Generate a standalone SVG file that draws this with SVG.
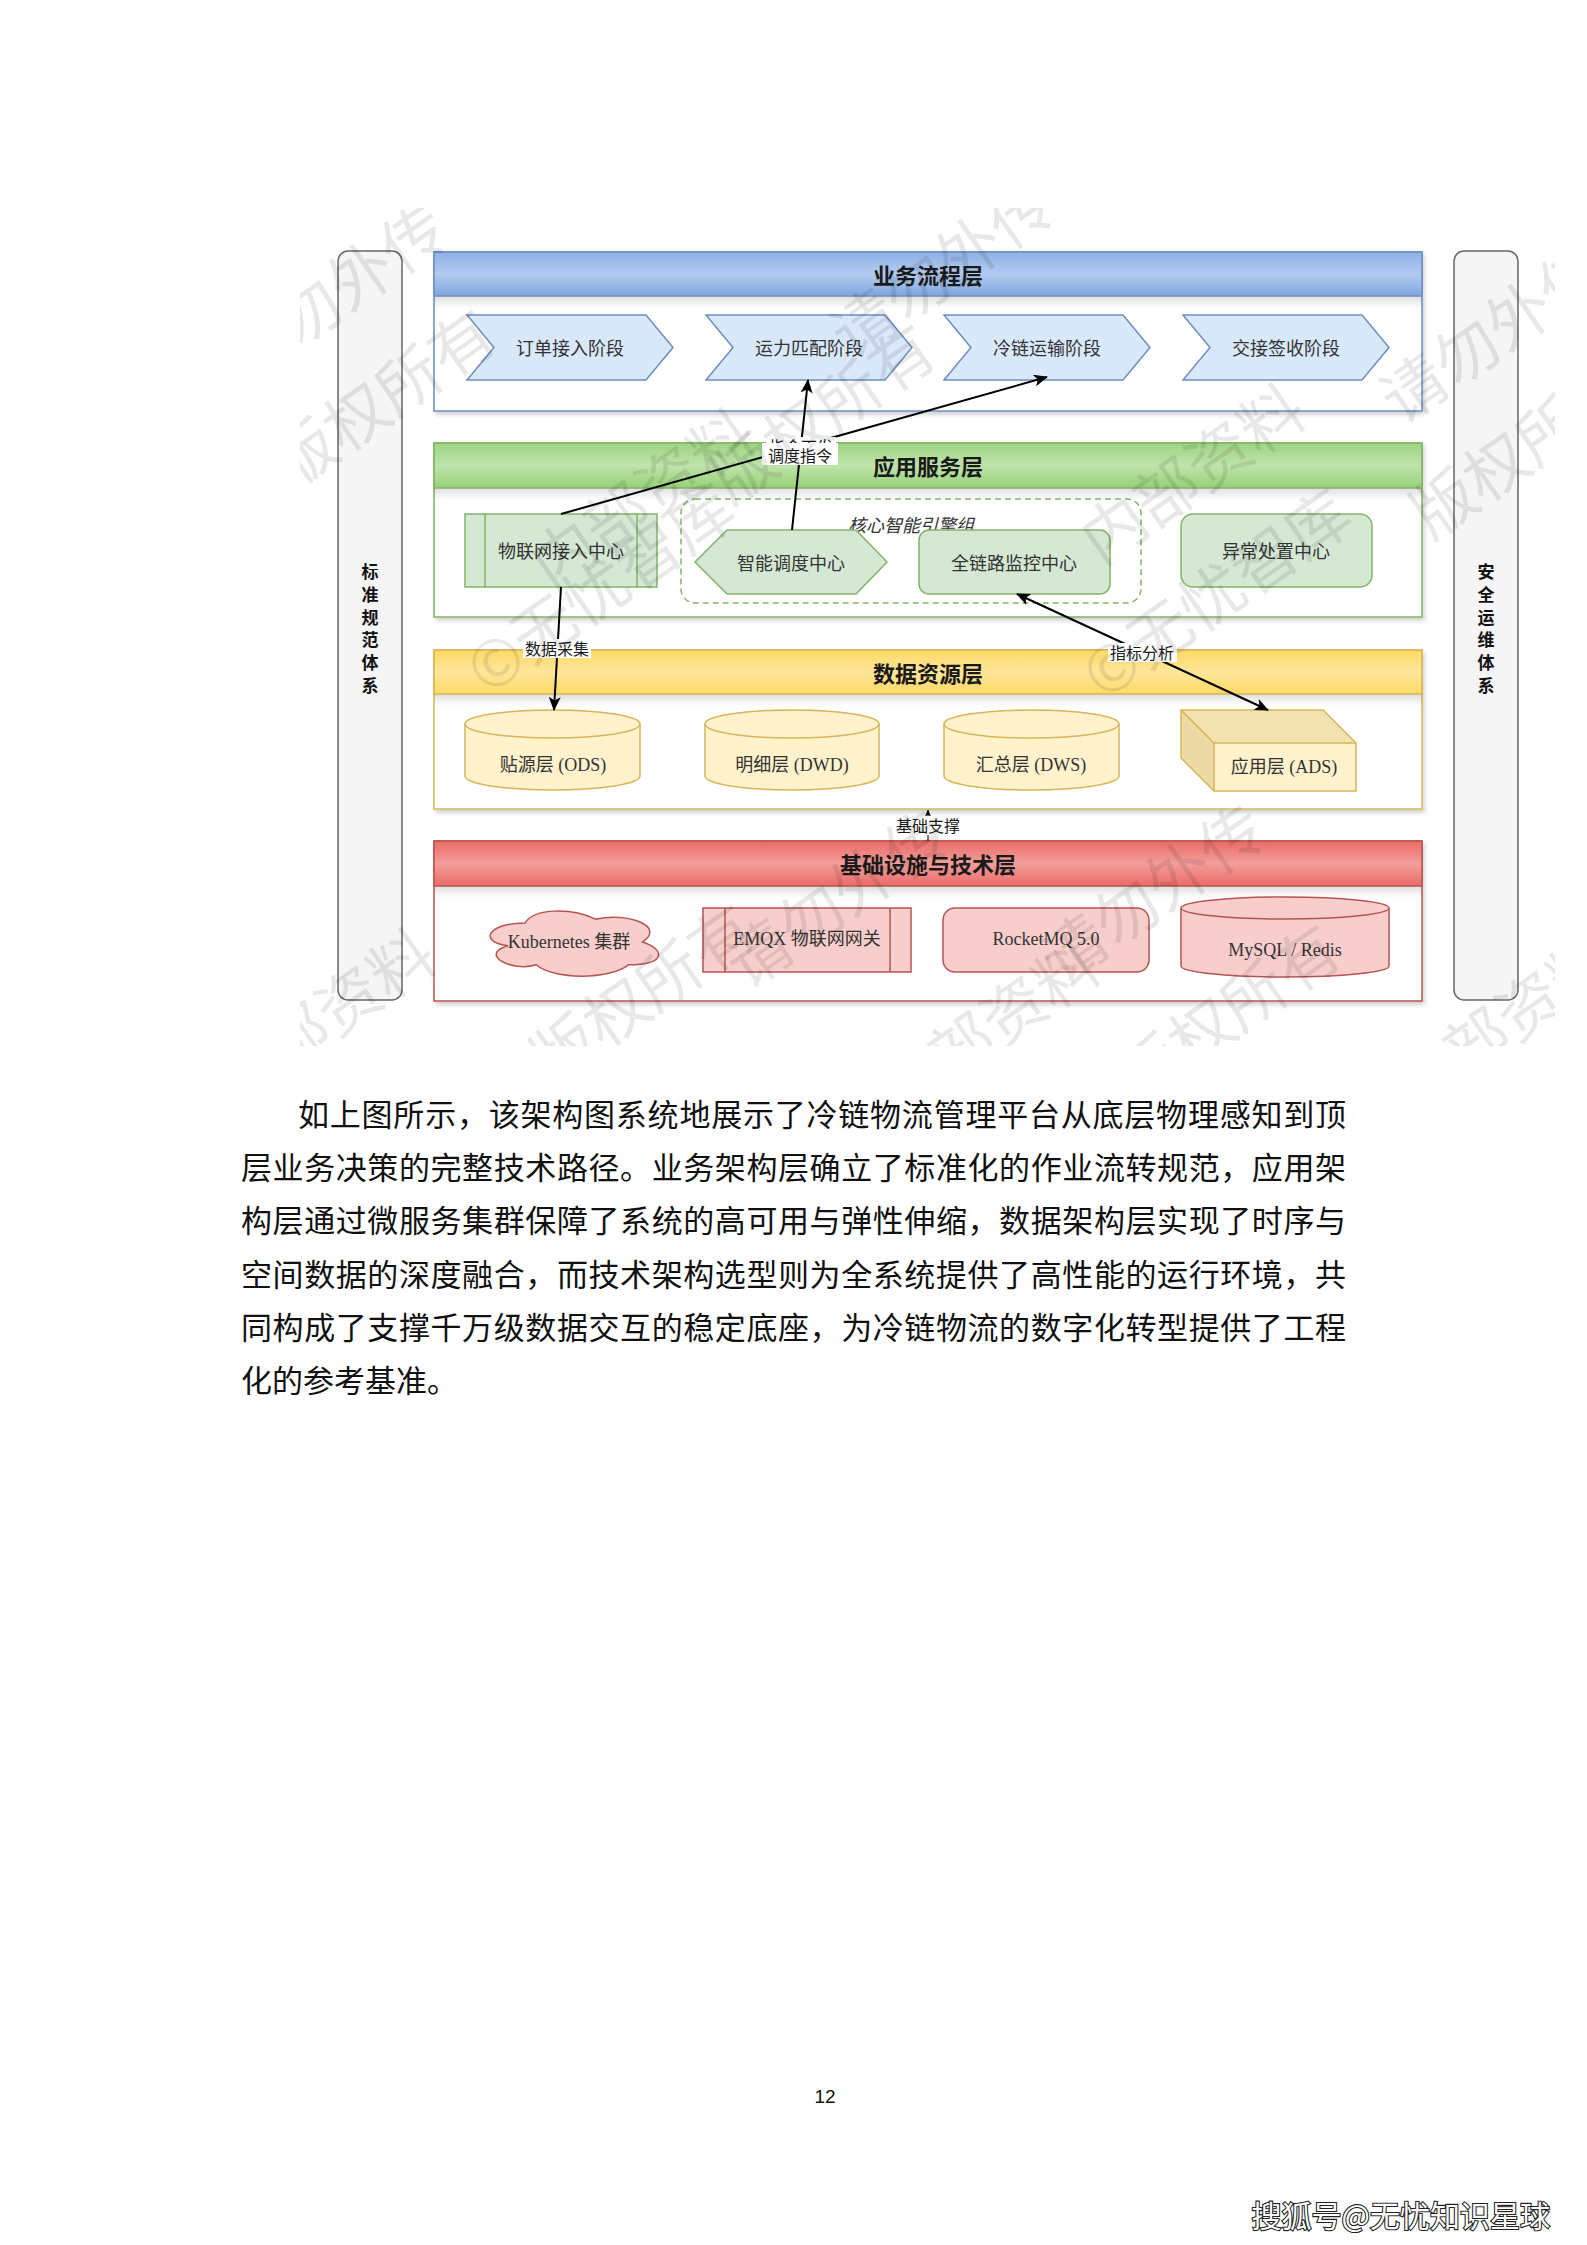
<svg xmlns="http://www.w3.org/2000/svg" width="1587" height="2245" viewBox="0 0 1587 2245">
<style>
.hdr{font-family:"Noto Sans CJK SC",sans-serif;font-weight:bold;font-size:22px;fill:#1a1a1a;text-anchor:middle;dominant-baseline:central}
.lbl{font-family:"Liberation Serif","Noto Sans CJK SC",serif;font-size:18px;fill:#333;text-anchor:middle;dominant-baseline:central}
.cj{font-family:"Noto Sans CJK SC",sans-serif;font-size:18px;fill:#333;text-anchor:middle;dominant-baseline:central}
.elbl{font-family:"Noto Sans CJK SC",sans-serif;font-size:16px;fill:#1a1a1a;text-anchor:middle;dominant-baseline:central}
.side{font-family:"Noto Sans CJK SC",sans-serif;font-weight:bold;font-size:17px;fill:#111;text-anchor:middle;dominant-baseline:central}
.body{font-family:"Liberation Serif","Noto Sans CJK SC",serif;font-size:31px;fill:#111}
.wm{font-family:"Noto Sans CJK SC",sans-serif;font-size:64px;fill:#000;fill-opacity:0.09;text-anchor:middle;dominant-baseline:central}
.edge{stroke:#000;stroke-width:2;fill:none}
.bgw{fill:#fff}
</style>
<defs>
<linearGradient id="gBlue" x1="0" y1="0" x2="0" y2="1"><stop offset="0" stop-color="#8db0e6"/><stop offset="0.5" stop-color="#b3cbf0"/><stop offset="1" stop-color="#7ea6e0"/></linearGradient>
<linearGradient id="gGreen" x1="0" y1="0" x2="0" y2="1"><stop offset="0" stop-color="#9ed383"/><stop offset="0.5" stop-color="#bfe4ab"/><stop offset="1" stop-color="#97d077"/></linearGradient>
<linearGradient id="gYellow" x1="0" y1="0" x2="0" y2="1"><stop offset="0" stop-color="#ffd966"/><stop offset="0.5" stop-color="#ffe699"/><stop offset="1" stop-color="#ffd966"/></linearGradient>
<linearGradient id="gRed" x1="0" y1="0" x2="0" y2="1"><stop offset="0" stop-color="#ea6b66"/><stop offset="0.5" stop-color="#f29e9b"/><stop offset="1" stop-color="#ea6b66"/></linearGradient>
<linearGradient id="gShade" x1="0" y1="0" x2="0" y2="1"><stop offset="0" stop-color="#000" stop-opacity="0.13"/><stop offset="1" stop-color="#000" stop-opacity="0"/></linearGradient>
<filter id="sh" x="-5%" y="-5%" width="110%" height="115%"><feDropShadow dx="2" dy="3" stdDeviation="2" flood-color="#000" flood-opacity="0.18"/></filter>
<marker id="arr" viewBox="0 0 14 12" refX="13" refY="6" markerWidth="14" markerHeight="12" markerUnits="userSpaceOnUse" orient="auto-start-reverse"><path d="M0,0 L14,6 L0,12 L3.5,6 Z" fill="#000"/></marker>
<marker id="arrS" viewBox="0 0 14 12" refX="13" refY="6" markerWidth="7" markerHeight="6" markerUnits="userSpaceOnUse" orient="auto"><path d="M0,0 L14,6 L0,12 L3.5,6 Z" fill="#000"/></marker>
<clipPath id="wmclip"><rect x="300" y="208" width="1255" height="838"/></clipPath>
</defs>
<rect x="0" y="0" width="1587" height="2245" fill="#fff"/>

<!-- side bars -->
<g id="std">
<rect x="338" y="251" width="64" height="749" rx="10" fill="#f5f5f5" stroke="#666" stroke-width="1.5"/>
<text class="side" x="370" y="570">标</text><text class="side" x="370" y="593">准</text><text class="side" x="370" y="616">规</text><text class="side" x="370" y="638">范</text><text class="side" x="370" y="661">体</text><text class="side" x="370" y="684">系</text>
</g>
<g id="sec">
<rect x="1454" y="251" width="64" height="749" rx="10" fill="#f5f5f5" stroke="#666" stroke-width="1.5"/>
<text class="side" x="1486" y="570">安</text><text class="side" x="1486" y="593">全</text><text class="side" x="1486" y="616">运</text><text class="side" x="1486" y="638">维</text><text class="side" x="1486" y="661">体</text><text class="side" x="1486" y="684">系</text>
</g>

<!-- layer 1 -->
<g id="layer-biz">
<rect x="434" y="252" width="988" height="159" fill="#fff" stroke="#6c8ebf" stroke-width="1.5" filter="url(#sh)"/>
<rect x="434" y="296" width="988" height="12" fill="url(#gShade)"/>
<rect x="434" y="252" width="988" height="44" fill="url(#gBlue)" stroke="#6c8ebf" stroke-width="1.5"/>
<text class="hdr" x="928" y="274">业务流程层</text>
</g>
<g id="stage1"><polygon points="467,315 646,315 673,347.5 646,380 467,380 494,347.5" fill="#dae8fc" stroke="#6c8ebf" stroke-width="1.5"/><text class="cj" x="570" y="347">订单接入阶段</text></g>
<g id="stage2"><polygon points="706,315 885,315 912,347.5 885,380 706,380 733,347.5" fill="#dae8fc" stroke="#6c8ebf" stroke-width="1.5"/><text class="cj" x="809" y="347">运力匹配阶段</text></g>
<g id="stage3"><polygon points="944,315 1123,315 1150,347.5 1123,380 944,380 971,347.5" fill="#dae8fc" stroke="#6c8ebf" stroke-width="1.5"/><text class="cj" x="1047" y="347">冷链运输阶段</text></g>
<g id="stage4"><polygon points="1183,315 1362,315 1389,347.5 1362,380 1183,380 1210,347.5" fill="#dae8fc" stroke="#6c8ebf" stroke-width="1.5"/><text class="cj" x="1286" y="347">交接签收阶段</text></g>

<!-- layer 2 -->
<g id="layer-app">
<rect x="434" y="443" width="988" height="174" fill="#fff" stroke="#82b366" stroke-width="1.5" filter="url(#sh)"/>
<rect x="434" y="488" width="988" height="12" fill="url(#gShade)"/>
<rect x="434" y="443" width="988" height="45" fill="url(#gGreen)" stroke="#82b366" stroke-width="1.5"/>
<text class="hdr" x="928" y="465">应用服务层</text>
</g>
<g id="core-group">
<rect x="681" y="499" width="460" height="104" rx="14" fill="none" stroke="#82b366" stroke-width="1.5" stroke-dasharray="6,4"/>
<text class="cj" x="911" y="524" font-style="italic" font-size="17">核心智能引擎组</text>
</g>
<g id="iot-center">
<rect x="465" y="514" width="192" height="73" fill="#d5e8d4" stroke="#82b366" stroke-width="1.5"/>
<line x1="485" y1="514" x2="485" y2="587" stroke="#82b366" stroke-width="1.5"/><line x1="637" y1="514" x2="637" y2="587" stroke="#82b366" stroke-width="1.5"/>
<text class="cj" x="561" y="550">物联网接入中心</text>
</g>
<g id="dispatch-center">
<polygon points="695,562 727,530 856,530 887,562 856,594 727,594" fill="#d5e8d4" stroke="#82b366" stroke-width="1.5"/>
<text class="cj" x="791" y="562">智能调度中心</text>
</g>
<g id="monitor-center">
<rect x="919" y="530" width="191" height="64" rx="10" fill="#d5e8d4" stroke="#82b366" stroke-width="1.5"/>
<text class="cj" x="1014" y="562">全链路监控中心</text>
</g>
<g id="exception-center">
<rect x="1181" y="514" width="191" height="73" rx="12" fill="#d5e8d4" stroke="#82b366" stroke-width="1.5"/>
<text class="cj" x="1276" y="550">异常处置中心</text>
</g>

<!-- layer 3 -->
<g id="layer-data">
<rect x="434" y="650" width="988" height="159" fill="#fff" stroke="#d6b656" stroke-width="1.5" filter="url(#sh)"/>
<rect x="434" y="694" width="988" height="12" fill="url(#gShade)"/>
<rect x="434" y="650" width="988" height="44" fill="url(#gYellow)" stroke="#d6b656" stroke-width="1.5"/>
<text class="hdr" x="928" y="672">数据资源层</text>
</g>
<g id="ods">
<path d="M465,724 A87.5,14 0 0 1 640,724 L640,776 A87.5,14 0 0 1 465,776 Z" fill="#fff2cc" stroke="#d6b656" stroke-width="1.5"/>
<path d="M465,724 A87.5,14 0 0 0 640,724" fill="none" stroke="#d6b656" stroke-width="1.5"/>
<text class="lbl" x="553" y="765">贴源层 (ODS)</text>
</g>
<g id="dwd">
<path d="M705,724 A87,14 0 0 1 879,724 L879,776 A87,14 0 0 1 705,776 Z" fill="#fff2cc" stroke="#d6b656" stroke-width="1.5"/>
<path d="M705,724 A87,14 0 0 0 879,724" fill="none" stroke="#d6b656" stroke-width="1.5"/>
<text class="lbl" x="792" y="765">明细层 (DWD)</text>
</g>
<g id="dws">
<path d="M944,724 A87.5,14 0 0 1 1119,724 L1119,776 A87.5,14 0 0 1 944,776 Z" fill="#fff2cc" stroke="#d6b656" stroke-width="1.5"/>
<path d="M944,724 A87.5,14 0 0 0 1119,724" fill="none" stroke="#d6b656" stroke-width="1.5"/>
<text class="lbl" x="1031" y="765">汇总层 (DWS)</text>
</g>
<g id="ads">
<polygon points="1181,710 1323,710 1356,743 1214,743" fill="#f3e3b3"/>
<polygon points="1181,710 1214,743 1214,791 1181,758" fill="#ecd9a6"/>
<rect x="1214" y="743" width="142" height="48" fill="#fff2cc"/>
<polygon points="1181,710 1323,710 1356,743 1356,791 1214,791 1181,758" fill="none" stroke="#d6b656" stroke-width="1.5"/>
<polyline points="1181,710 1214,743 1356,743" fill="none" stroke="#d6b656" stroke-width="1.5"/>
<line x1="1214" y1="743" x2="1214" y2="791" stroke="#d6b656" stroke-width="1.5"/>
<text class="lbl" x="1284" y="767">应用层 (ADS)</text>
</g>

<!-- layer 4 -->
<g id="layer-infra">
<rect x="434" y="841" width="988" height="160" fill="#fff" stroke="#b85450" stroke-width="1.5" filter="url(#sh)"/>
<rect x="434" y="886" width="988" height="12" fill="url(#gShade)"/>
<rect x="434" y="841" width="988" height="45" fill="url(#gRed)" stroke="#b85450" stroke-width="1.5"/>
<text class="hdr" x="928" y="863">基础设施与技术层</text>
</g>
<g id="k8s">
<path d="M525,923 C487.4,923 478,942 508.1,945.8 C478,954.2 511.8,972.4 536.3,964.8 C553.2,980 609.6,980 628.4,964.8 C666,964.8 666,949.6 642.5,942 C666,926.8 628.4,911.6 595.5,919.2 C572,907.8 534.4,907.8 525,923 Z" fill="#f8cecc" stroke="#b85450" stroke-width="1.5"/>
<text class="lbl" x="569" y="942">Kubernetes 集群</text>
</g>
<g id="emqx">
<rect x="703" y="908" width="208" height="64" fill="#f8cecc" stroke="#b85450" stroke-width="1.5"/>
<line x1="725" y1="908" x2="725" y2="972" stroke="#b85450" stroke-width="1.5"/><line x1="890" y1="908" x2="890" y2="972" stroke="#b85450" stroke-width="1.5"/>
<text class="lbl" x="807" y="939">EMQX 物联网网关</text>
</g>
<g id="rocketmq">
<rect x="943" y="908" width="206" height="64" rx="12" fill="#f8cecc" stroke="#b85450" stroke-width="1.5"/>
<text class="lbl" x="1046" y="939">RocketMQ 5.0</text>
</g>
<g id="mysql">
<path d="M1181,908 A104,11 0 0 1 1389,908 L1389,966 A104,11 0 0 1 1181,966 Z" fill="#f8cecc" stroke="#b85450" stroke-width="1.5"/>
<path d="M1181,908 A104,11 0 0 0 1389,908" fill="none" stroke="#b85450" stroke-width="1.5"/>
<text class="lbl" x="1285" y="950">MySQL / Redis</text>
</g>

<!-- connectors -->
<g id="connectors">
<line class="edge" x1="561" y1="514" x2="1047" y2="377" marker-end="url(#arr)"/>
<line class="edge" x1="792" y1="530" x2="808" y2="380" marker-end="url(#arr)"/>
<line class="edge" x1="561" y1="587" x2="554" y2="710" marker-end="url(#arr)"/>
<line class="edge" x1="1017" y1="594" x2="1268" y2="710" marker-start="url(#arr)" marker-end="url(#arr)"/>
<line x1="928" y1="841" x2="928" y2="810" stroke="#000" stroke-width="1" marker-end="url(#arrS)"/>
<rect class="bgw" x="766" y="437" width="70" height="18"/>
<text class="elbl" x="801" y="446">指令下发</text>
<rect class="bgw" x="762" y="443" width="76" height="22"/>
<text class="elbl" x="800" y="455">调度指令</text>
<rect class="bgw" x="523" y="639" width="68" height="19"/>
<text class="elbl" x="557" y="648">数据采集</text>
<rect class="bgw" x="1108" y="643" width="69" height="19"/>
<text class="elbl" x="1142" y="652">指标分析</text>
<rect class="bgw" x="894" y="816" width="68" height="19"/>
<text class="elbl" x="928" y="825">基础支撑</text>
</g>

<!-- watermark -->
<g id="watermark" clip-path="url(#wmclip)">
<text class="wm" transform="translate(332,290) rotate(-35)">请勿外传</text>
<text class="wm" transform="translate(380,395) rotate(-35)">版权所有</text>
<text class="wm" transform="translate(640,495) rotate(-35)">内部资料</text>
<text class="wm" transform="translate(598,585) rotate(-35)">©无忧智库</text>
<text class="wm" transform="translate(820,410) rotate(-35)">版权所有</text>
<text class="wm" transform="translate(940,265) rotate(-35)">请勿外传</text>
<text class="wm" transform="translate(1190,470) rotate(-35)">内部资料</text>
<text class="wm" transform="translate(1214,590) rotate(-35)">©无忧智库</text>
<text class="wm" transform="translate(1490,330) rotate(-35)">请勿外传</text>
<text class="wm" transform="translate(1520,445) rotate(-35)">版权所有</text>
<text class="wm" transform="translate(320,1015) rotate(-35)">内部资料</text>
<text class="wm" transform="translate(640,990) rotate(-35)">版权所有</text>
<text class="wm" transform="translate(835,895) rotate(-35)">请勿外传</text>
<text class="wm" transform="translate(985,1025) rotate(-35)">内部资料</text>
<text class="wm" transform="translate(1150,890) rotate(-35)">请勿外传</text>
<text class="wm" transform="translate(1225,1010) rotate(-35)">版权所有</text>
<text class="wm" transform="translate(1500,1020) rotate(-35)">内部资料</text>
</g>

<!-- body text -->
<g id="paragraph">
<text class="body" x="298" y="1126" textLength="1048" lengthAdjust="spacing">如上图所示，该架构图系统地展示了冷链物流管理平台从底层物理感知到顶</text>
<text class="body" x="241" y="1179" textLength="1105" lengthAdjust="spacing">层业务决策的完整技术路径。业务架构层确立了标准化的作业流转规范，应用架</text>
<text class="body" x="241" y="1232" textLength="1105" lengthAdjust="spacing">构层通过微服务集群保障了系统的高可用与弹性伸缩，数据架构层实现了时序与</text>
<text class="body" x="241" y="1286" textLength="1105" lengthAdjust="spacing">空间数据的深度融合，而技术架构选型则为全系统提供了高性能的运行环境，共</text>
<text class="body" x="241" y="1339" textLength="1105" lengthAdjust="spacing">同构成了支撑千万级数据交互的稳定底座，为冷链物流的数字化转型提供了工程</text>
<text class="body" x="241" y="1392">化的参考基准。</text>
</g>

<text x="825" y="2103" font-family="Liberation Sans, sans-serif" font-size="19" fill="#111" text-anchor="middle">12</text>
<text x="1550" y="2227" font-family="Noto Sans CJK SC, sans-serif" font-size="30" fill="#fff" stroke="#222" stroke-width="2.2" paint-order="stroke" text-anchor="end">搜狐号@无忧知识星球</text>
</svg>
